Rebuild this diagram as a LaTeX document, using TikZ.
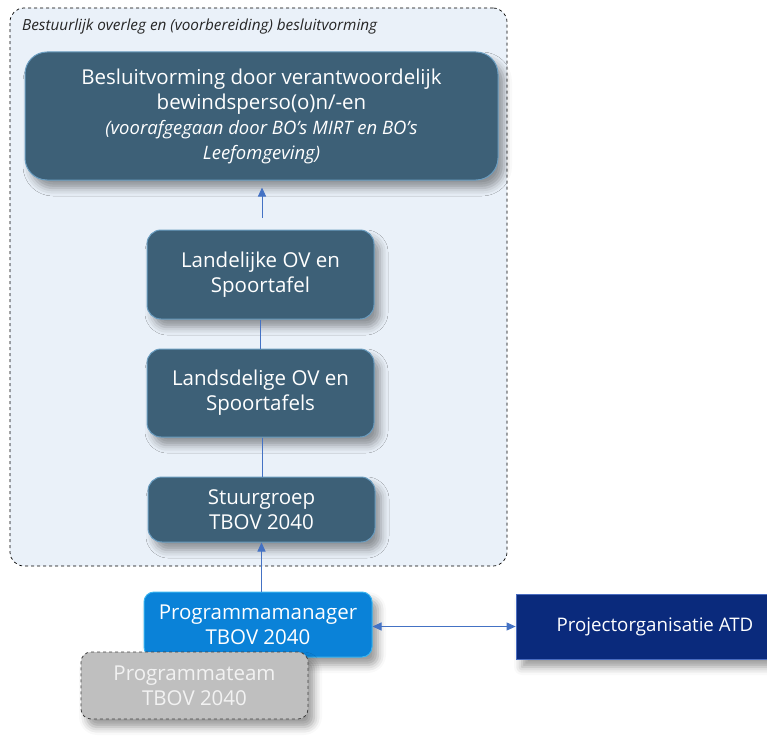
\documentclass[tikz,border=0pt]{standalone}
\usepackage{fontspec}
\setmainfont{Open Sans}
\usetikzlibrary{shadows.blur,arrows.meta}
\definecolor{contfill}{HTML}{EAF1F9}
\definecolor{tealfill}{HTML}{3D6077}
\definecolor{tealedge}{HTML}{6A9DC0}
\definecolor{pmfill}{HTML}{0A82D8}
\definecolor{pmedge}{HTML}{38B4F0}
\definecolor{ptfill}{HTML}{BFBFBF}
\definecolor{pttext}{HTML}{F2F2F2}
\definecolor{atdfill}{HTML}{0A2A7C}
\definecolor{atdedge}{HTML}{4A6CC0}
\definecolor{arrowblue}{HTML}{4472C4}
\tikzset{
  shade/.style={blur shadow={shadow xshift=6pt,shadow yshift=-8pt,shadow blur radius=8pt,shadow opacity=40}},
  tealbox/.style={rectangle, rounded corners=14pt, fill=tealfill, draw=tealedge, line width=1pt,
    text=white, align=center, font=\fontsize{20.5}{25}\selectfont, shade},
  conn/.style={draw=arrowblue, line width=1pt},
  tip/.style={-{Triangle[length=9pt,width=8pt]}}
}
\begin{document}
\begin{tikzpicture}[x=1pt,y=1pt]
\useasboundingbox (0,0) rectangle (767,-749);
\node[rectangle, rounded corners=14pt, draw=black, dashed, line width=0.7pt, fill=contfill,
  minimum width=497pt, minimum height=558pt, inner sep=0pt] (cont) at (258.5,-287) {};
\node[anchor=base west, font=\fontsize{15.3}{18}\selectfont\itshape, text=black!85, inner sep=0pt] (title) at (22,-31) {Bestuurlijk overleg en (voorbereiding) besluitvorming};

\node[tealbox, rounded corners=22pt, minimum width=473pt, minimum height=128pt] (B) at (261.5,-116)
 {Besluitvorming door verantwoordelijk\\bewindsperso(o)n/-en\\{\fontsize{18.5}{25}\selectfont\itshape (voorafgegaan door BO’s MIRT en BO’s}\\{\fontsize{18.5}{25}\selectfont\itshape Leefomgeving)}};
\node[tealbox, minimum width=227pt, minimum height=89pt] (L) at (260.5,-274.5) {Landelijke OV en\\Spoortafel};
\node[tealbox, minimum width=227pt, minimum height=88pt] (D) at (260.5,-393) {Landsdelige OV en\\Spoortafels};
\node[tealbox, minimum width=227pt, minimum height=65pt] (S) at (261.5,-509.5) {Stuurgroep\\TBOV 2040};

\node[rectangle, rounded corners=10pt, fill=pmfill, draw=pmedge, line width=1pt, text=white, align=center,
  font=\fontsize{20.5}{25}\selectfont, minimum width=228pt, minimum height=65pt, shade] (PM) at (258,-624.5) {Programmamanager\\TBOV 2040};
\node[rectangle, rounded corners=10pt, fill=ptfill, draw=black!75, dashed, line width=0.8pt, text=pttext, align=center,
  font=\fontsize{20.5}{25}\selectfont, minimum width=227pt, minimum height=67pt, shade] (PT) at (194.5,-685.5) {Programmateam\\TBOV 2040};
\node[rectangle, fill=atdfill, draw=atdedge, line width=0.8pt, text=white, align=center,
  font=\fontsize{18.7}{25}\selectfont, minimum width=278pt, minimum height=65pt, shade] (ATD) at (655,-626.5) {Projectorganisatie ATD};

\draw[conn, tip, shorten <=12pt, shorten >=7pt] (L.north -| 262,0) -- (B.south -| 262,0);
\draw[conn] (L.south) -- (D.north);
\draw[conn] (D.south -| 262,0) -- (S.north -| 262,0);
\draw[conn, tip] (S.south |- PM.north) -- (S.south);
\draw[conn, {Triangle[length=9pt,width=8pt]}-{Triangle[length=9pt,width=8pt]}] (PM.east |- ATD.west) -- (ATD.west);
\end{tikzpicture}
\end{document}
